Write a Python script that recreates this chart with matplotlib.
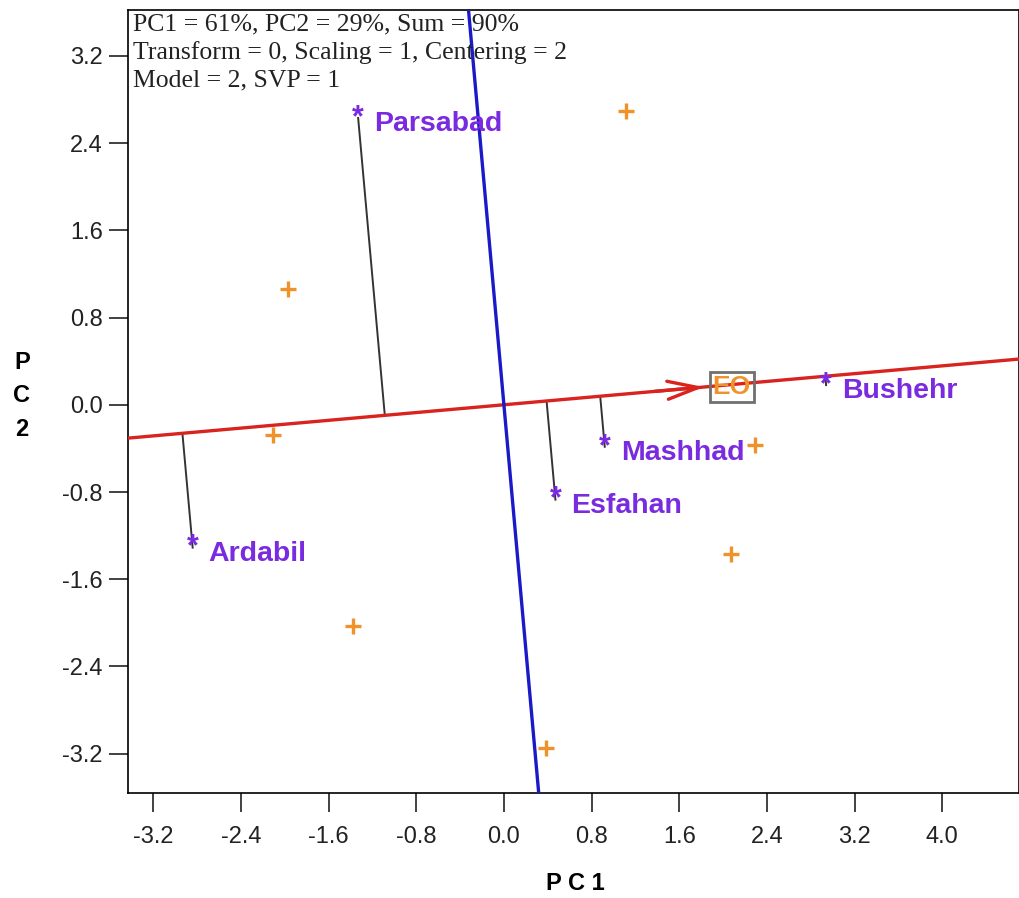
import numpy as np
import matplotlib
matplotlib.use("Agg")
import matplotlib.pyplot as plt

COL_SITE = "#7a2be0"
COL_VAR = "#f0922a"
COL_RED = "#d9231f"
COL_BLUE = "#1a1ac8"

plt.rcParams.update({
    "font.family": ["Liberation Sans", "DejaVu Sans"],
    "axes.linewidth": 1.2,
})

# site scores (purple asterisks)
sites = ["Parsabad", "Ardabil", "Esfahan", "Mashhad", "Bushehr"]
site_pc1 = [-1.33, -2.84, 0.47, 0.92, 2.94]
site_pc2 = [2.63, -1.31, -0.87, -0.385, 0.18]

# variable scores (orange crosses)
var_pc1 = [1.11, -1.97, -2.11, 2.29, 2.07, -1.38, 0.38]
var_pc2 = [2.69, 1.06, -0.28, -0.37, -1.37, -2.03, -3.15]

# EO vector
eo_x, eo_y = 1.85, 0.165
slope = eo_y / eo_x

xticks = [-3.2, -2.4, -1.6, -0.8, 0.0, 0.8, 1.6, 2.4, 3.2, 4.0]
yticks = [3.2, 2.4, 1.6, 0.8, 0.0, -0.8, -1.6, -2.4, -3.2]

fig = plt.figure(figsize=(10.2, 8.98), dpi=100)
ax = fig.add_axes([128 / 1020, 1 - 793 / 898, (1019 - 128) / 1020, (793 - 10) / 898])
xlim = (-3.43, 4.70)
ylim = (-3.56, 3.62)
ax.set_xlim(*xlim)
ax.set_ylim(*ylim)

# red line (EO direction) and blue perpendicular
xs = np.array(xlim)
ax.plot(xs, slope * xs, color=COL_RED, lw=2.4, zorder=3)
ys = np.array(ylim)
ax.plot(-slope * ys, ys, color=COL_BLUE, lw=2.4, zorder=3)

# arrow head
ax.annotate("", xy=(eo_x, eo_y), xytext=(eo_x - 0.5, eo_y - 0.5 * slope),
            arrowprops=dict(arrowstyle="->,head_length=2.2,head_width=0.65",
                            color=COL_RED, lw=2.4), zorder=4)
ax.text(2.08, 0.165, "EO", color=COL_VAR, fontsize=19, fontweight="bold",
        ha="center", va="center", zorder=5,
        bbox=dict(boxstyle="square,pad=0.12", fc="none", ec="#707070", lw=2))

# projections of sites onto EO axis
norm = 1 + slope ** 2
for name, px, py in zip(sites, site_pc1, site_pc2):
    t = (px + slope * py) / norm
    ax.plot([px, t], [py, slope * t], color="#333333", lw=1.4, zorder=2)
    ax.text(px, py, "*", color=COL_SITE, fontsize=22, fontweight="bold",
            ha="center", va="center", zorder=5)
    ax.annotate(name, (px, py), xytext=(16, -6), textcoords="offset pixels",
                color=COL_SITE, fontsize=20.5, fontweight="bold",
                ha="left", va="center", zorder=5)

ax.plot(var_pc1, var_pc2, "+", color=COL_VAR, ms=11, mew=2.4, ls="none", zorder=5)

ax.text(0.006, 0.995,
        "PC1 = 61%, PC2 = 29%, Sum = 90%\nTransform = 0, Scaling = 1, Centering = 2\nModel = 2, SVP = 1",
        transform=ax.transAxes, family=["Liberation Serif", "DejaVu Serif"],
        fontsize=18.5, va="top", ha="left", linespacing=1.3, color="#222222")

ax.set_xticks(xticks)
ax.set_xticklabels([f"{v:.1f}" for v in xticks])
ax.set_yticks(yticks)
ax.set_yticklabels([f"{v:.1f}" for v in yticks])
ax.tick_params(direction="out", length=14, width=1.3, labelsize=17,
               colors="#333333", labelcolor="#222222")
ax.tick_params(axis="y", pad=4)
ax.tick_params(axis="x", pad=10)

fig.text(575 / 1020, 1 - 884 / 898, "P C 1", fontsize=17, fontweight="bold",
         ha="center", va="center")
fig.text(22 / 1020, 1 - 396 / 898, "P\nC\n2", fontsize=17, fontweight="bold",
         ha="center", va="center", linespacing=1.6)

fig.savefig("out.png", dpi=100)
